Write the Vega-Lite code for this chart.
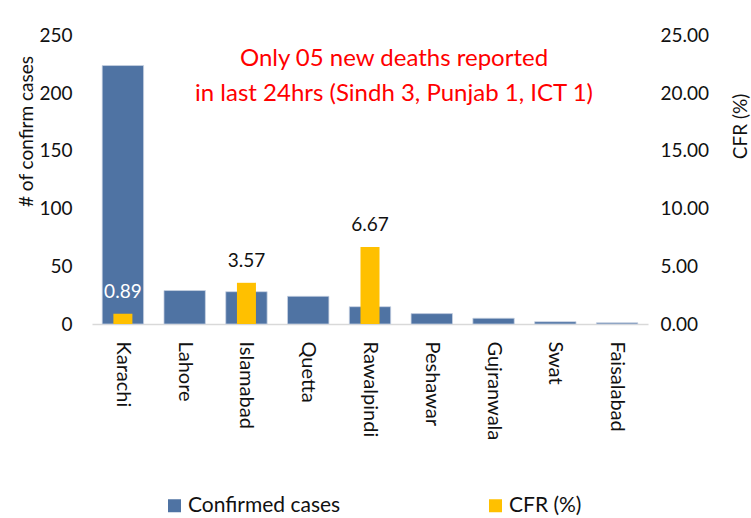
{
  "$schema": "https://vega.github.io/schema/vega-lite/v6.json",
  "width": 556,
  "height": 300,
  "autosize": {"type": "none"},
  "padding": {"left": 92, "top": 24, "right": 103, "bottom": 194},
  "config": {
    "view": {"stroke": null},
    "font": "Lato",
    "axis": {"labelFont": "Lato", "titleFont": "Lato", "labelColor": "#111111", "titleColor": "#111111", "titleFontWeight": "normal", "grid": false, "ticks": false, "labelFontSize": 19, "titleFontSize": 19},
    "legend": {"labelFont": "Lato"}
  },
  "data": {
    "values": [
      {"city": "Karachi", "cases": 224, "cfr": 0.89},
      {"city": "Lahore", "cases": 29, "cfr": null},
      {"city": "Islamabad", "cases": 28, "cfr": 3.57},
      {"city": "Quetta", "cases": 24, "cfr": null},
      {"city": "Rawalpindi", "cases": 15, "cfr": 6.67},
      {"city": "Peshawar", "cases": 9, "cfr": null},
      {"city": "Gujranwala", "cases": 5, "cfr": null},
      {"city": "Swat", "cases": 2, "cfr": null},
      {"city": "Faisalabad", "cases": 1, "cfr": null}
    ]
  },
  "layer": [
    {
      "layer": [
        {
          "mark": {"type": "bar", "stroke": "#c9d3e3", "strokeWidth": 0.75},
          "encoding": {
            "x": {
              "field": "city", "type": "nominal",
              "scale": {"domain": ["Karachi", "Lahore", "Islamabad", "Quetta", "Rawalpindi", "Peshawar", "Gujranwala", "Swat", "Faisalabad"], "paddingInner": 0.33, "paddingOuter": 0.165},
              "axis": {"title": null, "labelAngle": 90, "labelPadding": 17, "labelFontSize": 20, "domainColor": "#d9d9d9", "domainWidth": 1.5}
            },
            "y": {
              "field": "cases", "type": "quantitative",
              "scale": {"domain": [0, 250]},
              "axis": {"values": [0, 50, 100, 150, 200, 250], "domain": false, "labelPadding": 20, "title": "# of confirm cases", "titleAngle": -90, "titleX": -66, "titleY": 107, "titleBaseline": "middle", "titleAlign": "center"}
            },
            "color": {
              "datum": "Confirmed cases", "type": "nominal",
              "scale": {"domain": ["Confirmed cases", "CFR (%)"], "range": ["#4F73A3", "#FFC000"]},
              "legend": {"orient": "none", "legendX": 72, "legendY": 471, "direction": "horizontal", "title": null, "symbolType": "square", "symbolSize": 169, "symbolStrokeWidth": 0, "symbolOpacity": 1, "labelFontSize": 21, "labelColor": "#111111", "columnPadding": 144, "labelOffset": 3}
            }
          }
        },
        {
          "data": {"values": [{"city": "Rawalpindi", "cases": 224, "note": "Only 05 new deaths reported\nin last 24hrs (Sindh 3, Punjab 1, ICT 1)"}]},
          "mark": {"type": "text", "lineBreak": "\n", "fontSize": 24, "color": "#FF0000", "baseline": "alphabetic", "align": "center", "dx": 24, "lineHeight": 35},
          "encoding": {
            "x": {"field": "city", "type": "nominal"},
            "y": {"field": "cases", "type": "quantitative"},
            "text": {"field": "note"}
          }
        }
      ]
    },
    {
      "transform": [{"filter": "isValid(datum.cfr)"}],
      "layer": [
        {
          "mark": {"type": "bar", "width": 19},
          "encoding": {
            "x": {"field": "city", "type": "nominal"},
            "y": {
              "field": "cfr", "type": "quantitative",
              "scale": {"domain": [0, 25]},
              "axis": {"orient": "right", "values": [0, 5, 10, 15, 20, 25], "format": ".2f", "domain": false, "labelPadding": 12, "title": "CFR (%)", "titleAngle": -90, "titleX": 92, "titleY": 102, "titleBaseline": "middle", "titleAlign": "center"}
            },
            "color": {"datum": "CFR (%)", "type": "nominal"}
          }
        },
        {
          "mark": {"type": "text", "baseline": "alphabetic", "dy": -16, "fontSize": 19},
          "encoding": {
            "x": {"field": "city", "type": "nominal"},
            "y": {"field": "cfr", "type": "quantitative"},
            "text": {"field": "cfr", "type": "quantitative", "format": ".2f"},
            "color": {"condition": {"test": "datum.city === 'Karachi'", "value": "#ffffff"}, "value": "#111111"}
          }
        }
      ]
    }
  ],
  "resolve": {"scale": {"y": "independent"}}
}
